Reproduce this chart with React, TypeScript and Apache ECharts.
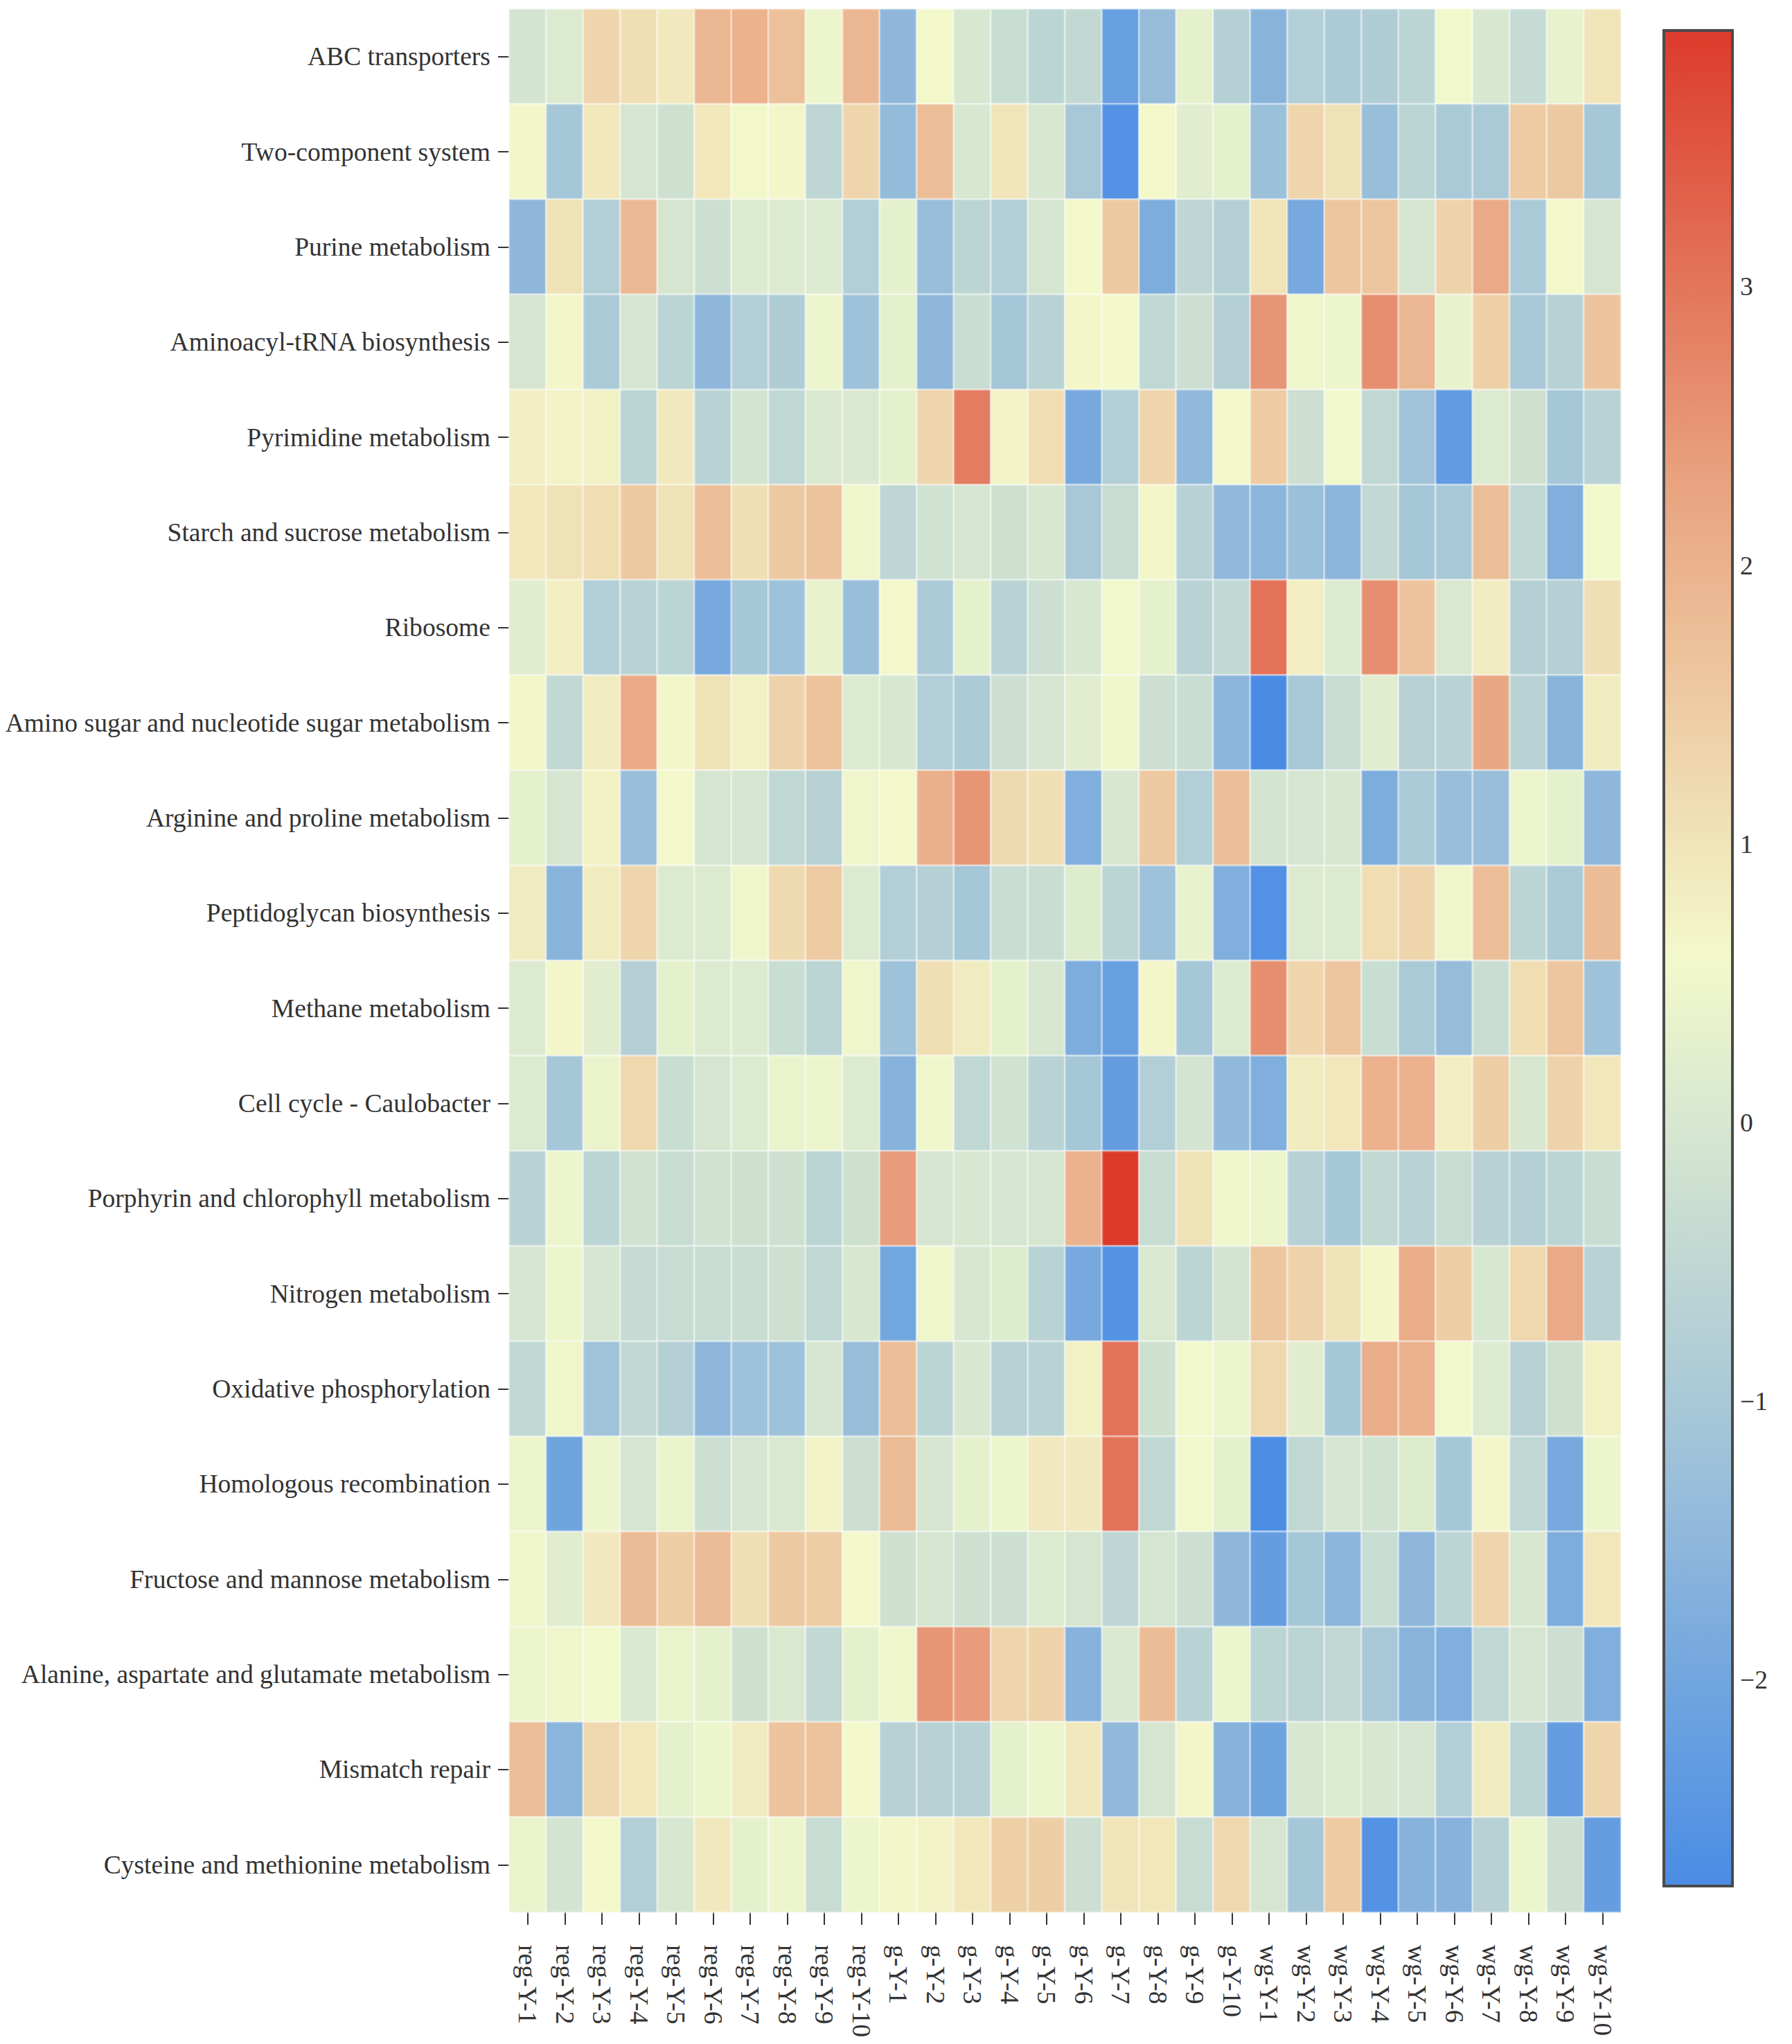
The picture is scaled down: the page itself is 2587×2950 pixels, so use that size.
import React, { useEffect, useRef } from "react";
import * as echarts from "echarts";

const pathways = [
  "ABC transporters",
  "Two-component system",
  "Purine metabolism",
  "Aminoacyl-tRNA biosynthesis",
  "Pyrimidine metabolism",
  "Starch and sucrose metabolism",
  "Ribosome",
  "Amino sugar and nucleotide sugar metabolism",
  "Arginine and proline metabolism",
  "Peptidoglycan biosynthesis",
  "Methane metabolism",
  "Cell cycle - Caulobacter",
  "Porphyrin and chlorophyll metabolism",
  "Nitrogen metabolism",
  "Oxidative phosphorylation",
  "Homologous recombination",
  "Fructose and mannose metabolism",
  "Alanine, aspartate and glutamate metabolism",
  "Mismatch repair",
  "Cysteine and methionine metabolism",
];

const samples = [
  "reg-Y-1", "reg-Y-2", "reg-Y-3", "reg-Y-4", "reg-Y-5", "reg-Y-6", "reg-Y-7", "reg-Y-8", "reg-Y-9", "reg-Y-10",
  "g-Y-1", "g-Y-2", "g-Y-3", "g-Y-4", "g-Y-5", "g-Y-6", "g-Y-7", "g-Y-8", "g-Y-9", "g-Y-10",
  "wg-Y-1", "wg-Y-2", "wg-Y-3", "wg-Y-4", "wg-Y-5", "wg-Y-6", "wg-Y-7", "wg-Y-8", "wg-Y-9", "wg-Y-10",
];

const abcTransporters = [-0.1, 0.1, 1.3, 1.1, 0.9, 1.9, 2.0, 1.7, 0.45, 1.9, -1.5, 0.6, 0.0, -0.3, -0.6, -0.45, -2.2, -1.35, 0.3, -0.75, -1.6, -0.8, -0.9, -0.85, -0.6, 0.55, 0.0, -0.4, 0.35, 1.0];
const twoComponent = [0.65, -1.05, 0.95, -0.05, -0.2, 0.95, 0.6, 0.65, -0.55, 1.3, -1.4, 1.75, 0.0, 1.0, 0.0, -1.0, -2.6, 0.6, 0.2, 0.3, -1.25, 1.3, 1.05, -1.3, -0.6, -0.95, -0.95, 1.5, 1.55, -1.05];
const purine = [-1.5, 1.05, -0.8, 1.85, -0.05, -0.25, 0.1, 0.1, 0.1, -0.8, 0.3, -1.3, -0.6, -0.8, -0.05, 0.6, 1.55, -1.8, -0.55, -0.75, 1.0, -1.9, 1.6, 1.6, -0.05, 1.35, 2.15, -0.95, 0.6, -0.05];
const aminoacylTrna = [-0.05, 0.65, -0.95, -0.05, -0.6, -1.5, -0.8, -0.85, 0.45, -1.2, 0.3, -1.5, -0.3, -1.05, -0.65, 0.65, 0.6, -0.5, -0.25, -0.75, 2.5, 0.5, 0.45, 2.6, 1.9, 0.35, 1.4, -1.0, -0.7, 1.65];
const pyrimidine = [0.8, 0.7, 0.75, -0.6, 0.9, -0.65, -0.1, -0.5, 0.05, 0.05, 0.3, 1.3, 2.9, 0.7, 1.15, -1.9, -0.8, 1.3, -1.45, 0.6, 1.5, -0.25, 0.55, -0.5, -1.15, -2.3, 0.1, -0.2, -1.05, -0.65];
const starchSucrose = [0.95, 1.05, 1.15, 1.55, 1.05, 1.75, 1.1, 1.55, 1.65, 0.5, -0.55, -0.15, -0.05, -0.2, 0.0, -1.0, -0.35, 0.65, -0.7, -1.45, -1.55, -1.25, -1.55, -0.45, -1.05, -1.0, 1.75, -0.5, -1.75, 0.55];
const ribosome = [0.2, 0.8, -0.8, -0.65, -0.6, -1.9, -1.05, -1.2, 0.35, -1.3, 0.6, -0.9, 0.3, -0.65, -0.25, 0.0, 0.55, 0.3, -0.65, -0.5, 3.05, 0.8, 0.1, 2.6, 1.65, 0.05, 0.85, -0.75, -0.75, 1.1];
const aminoSugar = [0.65, -0.45, 0.85, 2.15, 0.65, 1.05, 0.75, 1.35, 1.65, 0.1, 0.0, -0.8, -0.9, -0.25, -0.05, 0.2, 0.5, -0.25, -0.3, -1.55, -2.74, -1.0, -0.35, 0.2, -0.7, -0.65, 2.2, -0.65, -1.6, 0.85];
const arginineProline = [0.3, -0.05, 0.75, -1.3, 0.6, -0.05, -0.05, -0.5, -0.7, 0.5, 0.6, 2.05, 2.5, 1.2, 1.1, -1.75, 0.0, 1.55, -0.8, 1.75, -0.1, -0.05, 0.0, -1.8, -0.95, -1.3, -1.3, 0.45, 0.3, -1.5];
const peptidoglycan = [0.85, -1.6, 0.85, 1.3, 0.1, 0.1, 0.5, 1.2, 1.5, 0.1, -0.8, -0.75, -1.05, -0.3, -0.3, 0.15, -0.6, -1.2, 0.35, -1.75, -2.6, 0.1, 0.1, 1.15, 1.3, 0.5, 1.75, -0.6, -0.95, 1.8];
const methane = [0.1, 0.65, 0.2, -0.75, 0.3, 0.1, 0.1, -0.3, -0.6, 0.5, -1.2, 1.1, 0.85, 0.3, 0.0, -1.8, -2.2, 0.65, -1.05, 0.1, 2.6, 1.3, 1.6, -0.3, -0.95, -1.35, -0.3, 1.15, 1.6, -1.2];
const cellCycle = [0.1, -1.05, 0.4, 1.25, -0.3, -0.05, 0.1, 0.4, 0.45, 0.1, -1.65, 0.5, -0.5, -0.15, -0.65, -1.05, -2.25, -0.8, -0.1, -1.45, -1.75, 0.85, 0.95, 2.0, 2.0, 0.8, 1.45, 0.0, 1.35, 0.95];
const porphyrin = [-0.65, 0.45, -0.6, -0.15, -0.35, -0.15, -0.2, -0.2, -0.6, -0.2, 2.4, -0.05, 0.0, -0.05, -0.05, 2.0, 3.92, -0.35, 1.05, 0.5, 0.45, -0.7, -1.05, -0.45, -0.65, -0.35, -0.7, -0.75, -0.6, -0.3];
const nitrogen = [-0.05, 0.45, -0.05, -0.4, -0.35, -0.35, -0.3, -0.2, -0.5, 0.0, -2.0, 0.5, 0.0, 0.15, -0.65, -1.9, -2.55, 0.05, -0.6, -0.1, 1.6, 1.35, 1.05, 0.65, 2.1, 1.45, 0.0, 1.25, 2.15, -0.65];
const oxidativePhos = [-0.5, 0.5, -1.15, -0.45, -0.75, -1.5, -1.2, -1.2, -0.05, -1.3, 1.75, -0.6, 0.0, -0.7, -0.65, 0.75, 3.05, -0.2, 0.55, 0.45, 1.25, 0.2, -1.05, 2.1, 2.0, 0.55, 0.1, -0.7, -0.2, 0.75];
const homologousRec = [0.45, -2.05, 0.45, -0.05, 0.4, -0.25, -0.05, 0.05, 0.7, -0.25, 1.8, -0.05, 0.3, 0.45, 0.9, 0.9, 3.05, -0.5, 0.55, 0.3, -2.7, -0.5, -0.05, -0.15, 0.15, -1.05, 0.65, -0.5, -1.9, 0.45];
const fructoseMannose = [0.5, 0.2, 0.9, 1.8, 1.45, 1.8, 1.1, 1.55, 1.45, 0.6, -0.2, -0.05, -0.2, -0.25, 0.1, -0.05, -0.55, -0.05, -0.25, -1.5, -2.25, -1.05, -1.55, -0.35, -1.5, -0.6, 1.3, 0.0, -1.8, 0.95];
const alanineAspGlu = [0.45, 0.5, 0.55, 0.05, 0.4, 0.3, -0.2, 0.05, -0.45, 0.3, 0.5, 2.5, 2.4, 1.3, 1.35, -1.65, 0.05, 1.8, -0.65, 0.45, -0.6, -0.6, -0.5, -1.0, -1.6, -1.75, -0.5, -0.05, -0.25, -1.75];
const mismatchRepair = [1.75, -1.55, 1.25, 0.95, 0.3, 0.45, 0.85, 1.65, 1.65, 0.6, -0.7, -0.7, -0.7, 0.3, 0.45, 0.9, -1.45, -0.05, 0.65, -1.65, -2.05, 0.0, 0.1, 0.0, -0.05, -0.8, 0.85, -0.6, -2.25, 1.3];
const cysteineMethionine = [0.4, -0.1, 0.6, -0.8, 0.0, 0.9, 0.3, 0.45, -0.35, 0.45, 0.65, 0.7, 0.95, 1.4, 1.45, -0.25, 1.0, 0.95, -0.35, 1.25, -0.05, -1.05, 1.5, -2.55, -1.65, -1.65, -0.7, 0.45, -0.25, -2.25];

const rowValues = [
  abcTransporters, twoComponent, purine, aminoacylTrna, pyrimidine,
  starchSucrose, ribosome, aminoSugar, arginineProline, peptidoglycan,
  methane, cellCycle, porphyrin, nitrogen, oxidativePhos,
  homologousRec, fructoseMannose, alanineAspGlu, mismatchRepair, cysteineMethionine,
];

const colorbarTicks = [-2, -1, 0, 1, 2, 3];
const palette = ["#4A8CE4", "#A5C6D8", "#F3F9CB", "#E9A582", "#DC3B2C"];

const FONT = "'Liberation Serif', 'DejaVu Serif', serif";
const TEXT = "#333333";

export default function App() {
  const ref = useRef<HTMLDivElement>(null);

  useEffect(() => {
    if (!ref.current) return;
    const chart = echarts.init(ref.current, null, { renderer: "svg" });

    const data: [number, number, number][] = [];
    rowValues.forEach((row, r) => row.forEach((v, c) => data.push([c, r, v])));
    const all = data.map((d) => d[2]);
    const vMin = Math.min(...all);
    const vMax = Math.max(...all);

    const gL = 735, gT = 13, gW = 1605, gH = 2747;
    const cbL = 2402, cbT = 44, cbW = 99, cbH = 2678;

    chart.setOption({
      animation: false,
      backgroundColor: "#ffffff",
      grid: [
        { left: gL, top: gT, width: gW, height: gH, containLabel: false },
        { left: cbL, top: cbT, width: cbW, height: cbH, containLabel: false },
      ],
      xAxis: [
        {
          type: "category",
          gridIndex: 0,
          data: samples,
          position: "bottom",
          axisLine: { show: false },
          axisTick: { show: true, length: 18, alignWithLabel: true, lineStyle: { color: TEXT, width: 2 } },
          axisLabel: { rotate: -90, margin: 47, fontSize: 37.5, fontFamily: FONT, color: TEXT, interval: 0 },
          splitLine: { show: false },
        },
        { type: "value", gridIndex: 1, show: false, min: 0, max: 1 },
      ],
      yAxis: [
        {
          type: "category",
          gridIndex: 0,
          data: pathways,
          inverse: true,
          axisLine: { show: false },
          axisTick: { show: true, length: 16, alignWithLabel: true, lineStyle: { color: TEXT, width: 2 } },
          axisLabel: { margin: 27, fontSize: 37.6, fontFamily: FONT, color: TEXT, interval: 0 },
          splitLine: { show: false },
        },
        {
          type: "value",
          gridIndex: 1,
          position: "right",
          min: vMin,
          max: vMax,
          axisLine: { show: false },
          axisTick: { show: false },
          splitLine: { show: false },
          axisLabel: {
            show: true,
            customValues: colorbarTicks,
            margin: 11,
            fontSize: 37.5,
            fontFamily: FONT,
            color: TEXT,
            formatter: (v: number) => (v < 0 ? "\u2212" + Math.abs(v) : String(v)),
          },
        },
      ],
      visualMap: {
        type: "continuous",
        seriesIndex: 0,
        min: vMin,
        max: vMax,
        show: true,
        calculable: false,
        orient: "vertical",
        left: cbL,
        top: cbT,
        itemWidth: cbW,
        itemHeight: cbH,
        padding: 0,
        text: null,
        showLabel: false,
        hoverLink: false,
        inRange: { color: palette },
      },
      graphic: [
        {
          type: "rect",
          z: 100,
          shape: { x: cbL, y: cbT, width: cbW, height: cbH },
          style: { fill: "none", stroke: "#4a4a4a", lineWidth: 4 },
          silent: true,
        },
      ],
      series: [
        {
          type: "heatmap",
          xAxisIndex: 0,
          yAxisIndex: 0,
          data,
          itemStyle: { borderColor: "rgba(255,255,255,0.4)", borderWidth: 3 },
          emphasis: { disabled: true },
        },
      ],
    });

    return () => chart.dispose();
  }, []);

  return (
    <div
      ref={ref}
      style={{ position: "absolute", left: 0, top: 0, width: 2587, height: 2950, background: "#fff" }}
    />
  );
}
